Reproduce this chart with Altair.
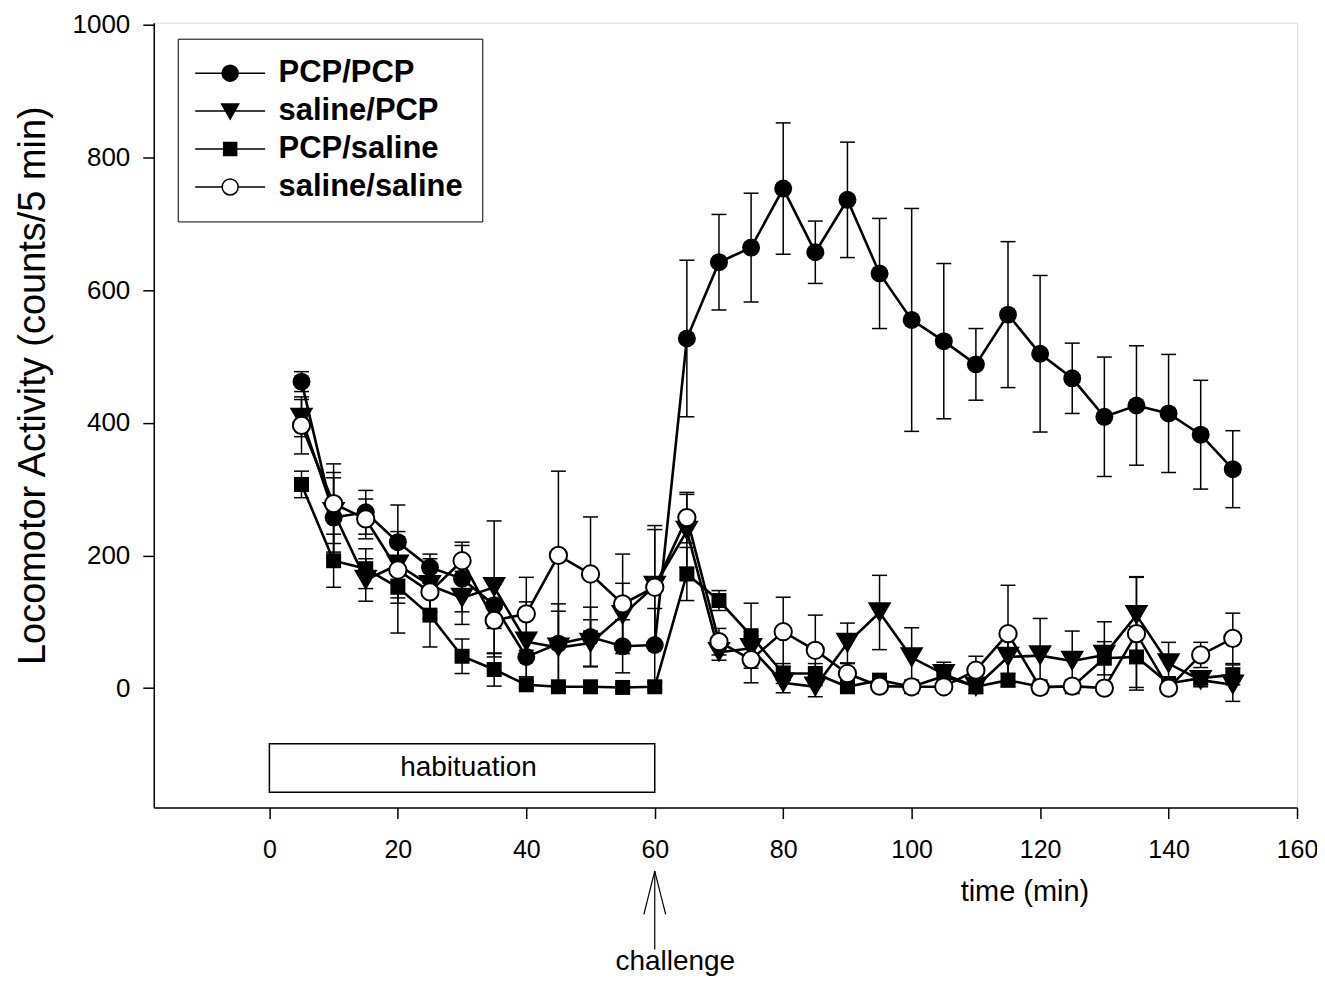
import altair as alt
import pandas as pd

# ---- data ----
times = [5, 10, 15, 20, 25, 30, 35, 40, 45, 50, 55, 60, 65, 70, 75,
         80, 85, 90, 95, 100, 105, 110, 115, 120, 125, 130, 135, 140, 145, 150]

groups = ["PCP/PCP", "saline/PCP", "PCP/saline", "saline/saline"]

pcp_pcp = [462, 257, 265, 220, 182, 165, 125, 47, 67, 77, 63, 65, 527, 642, 664,
           753, 657, 736, 625, 555, 523, 488, 563, 504, 467, 409, 426, 414, 382, 330]
pcp_pcp_err = [15, 60, 33, 56, 20, 50, 35, 30, 60, 45, 40, 55, 118, 72, 82,
               99, 47, 87, 83, 168, 117, 54, 110, 118, 53, 90, 90, 89, 82, 58]

saline_pcp = [407, 265, 163, 186, 155, 136, 152, 70, 61, 68, 110, 154, 237, 54, 60,
              8, 2, 68, 114, 46, 21, 2, 47, 49, 41, 50, 110, 37, 12, 5]
saline_pcp_err = [28, 60, 32, 50, 40, 40, 100, 60, 55, 35, 48, 85, 55, 12, 25,
                  15, 15, 30, 56, 45, 18, 10, 40, 56, 45, 50, 58, 32, 10, 25]

pcp_saline = [307, 192, 180, 152, 110, 48, 28, 5, 2, 2, 1, 2, 172, 132, 79,
              22, 22, 2, 12, 2, 18, 2, 12, 2, 2, 45, 47, 7, 15, 20]
pcp_saline_err = [20, 40, 30, 69, 48, 26, 25, 5, 5, 5, 5, 5, 40, 15, 49,
                  15, 15, 5, 5, 5, 10, 5, 10, 5, 5, 25, 46, 8, 10, 15]

saline_saline = [396, 278, 255, 178, 145, 192, 102, 112, 200, 172, 127, 152, 257, 70, 43,
                 85, 57, 22, 3, 2, 2, 27, 82, 1, 3, 0, 82, 0, 50, 75]
saline_saline_err = [43, 60, 30, 50, 40, 28, 55, 55, 127, 86, 75, 93, 38, 20, 35,
                     52, 53, 15, 8, 5, 5, 21, 73, 5, 5, 5, 85, 5, 19, 38]

series = {
    "PCP/PCP": (pcp_pcp, pcp_pcp_err),
    "saline/PCP": (saline_pcp, saline_pcp_err),
    "PCP/saline": (pcp_saline, pcp_saline_err),
    "saline/saline": (saline_saline, saline_saline_err),
}

rows = []
for g, (vals, errs) in series.items():
    for t, v, e in zip(times, vals, errs):
        rows.append({"t": t, "group": g, "value": v, "lo": v - e, "hi": v + e})
df = pd.DataFrame(rows)

# annotations
habit = pd.DataFrame([{"x0": 0, "x1": 60, "y0": -157, "y1": -84, "tx": 31, "ty": -121,
                       "label": "habituation"}])
challenge_t = 60
arrow = pd.DataFrame([
    {"x0": challenge_t, "y0": -276, "x1": challenge_t, "y1": -394},
    {"x0": challenge_t, "y0": -276, "x1": challenge_t - 1.7, "y1": -341},
    {"x0": challenge_t, "y0": -276, "x1": challenge_t + 1.7, "y1": -341},
])
chal_lbl = pd.DataFrame([{"x": 63.2, "y": -413, "label": "challenge"}])

FONT = "Liberation Sans"

xs = alt.Scale(domain=[-18, 160], nice=False, zero=False)
ys = alt.Scale(domain=[-180, 1003], nice=False, zero=False)

xaxis = alt.Axis(values=list(range(0, 161, 20)), title="time (min)", grid=False, format="d",
                 titleX=872, titleY=84, titleBaseline="middle", titleFontSize=29,
                 titleFontWeight="normal", titleFont=FONT, titleColor="black",
                 labelFont=FONT, labelFontSize=25, labelColor="black", labelFlush=False,
                 labelPadding=19, tickSize=11, tickColor="black", tickWidth=1.5,
                 domainColor="black", domainWidth=1.5, labelOverlap=False)
yaxis = alt.Axis(values=list(range(0, 1001, 200)), title="Locomotor Activity (counts/5 min)",
                 grid=False, format="d", titleX=-120, titleY=385 - 22, titleBaseline="middle",
                 titleFontSize=38, titleFontWeight="normal", titleFont=FONT, titleColor="black",
                 labelFont=FONT, labelFontSize=26, labelColor="black", labelFlush=False,
                 labelPadding=13, tickSize=11, tickColor="black", tickWidth=1.5,
                 domainColor="black", domainWidth=1.5, labelOverlap=False)


def X(f):
    return alt.X(f, type="quantitative", scale=xs, axis=xaxis)


def Y(f):
    return alt.Y(f, type="quantitative", scale=ys, axis=yaxis)


base = alt.Chart(df)

rect = alt.Chart(habit).mark_rect(fill="white", stroke="black", strokeWidth=1.5).encode(
    x=X("x0"), x2="x1", y=Y("y0"), y2="y1")
rect_txt = alt.Chart(habit).mark_text(font=FONT, fontSize=28, color="black",
                                      baseline="middle", align="center").encode(
    x=X("tx"), y=Y("ty"), text="label:N")

err_rule = base.mark_rule(color="black", strokeWidth=1.5).encode(
    x=X("t"), y=Y("lo"), y2="hi", detail="group:N")
cap_lo = base.mark_tick(color="black", orient="horizontal", size=15, thickness=1.5,
                        opacity=1).encode(x=X("t"), y=Y("lo"), detail="group:N")
cap_hi = base.mark_tick(color="black", orient="horizontal", size=15, thickness=1.5,
                        opacity=1).encode(x=X("t"), y=Y("hi"), detail="group:N")

lines = base.mark_line(color="black", strokeWidth=2.6).encode(
    x=X("t"), y=Y("value"), detail="group:N", order="t:Q")

pt_styles = {
    "PCP/PCP": dict(shape="circle", filled=True, color="black", size=324),
    "saline/PCP": dict(shape="triangle-down", filled=True, color="black", size=560),
    "PCP/saline": dict(shape="square", filled=True, color="black", size=225),
    "saline/saline": dict(shape="circle", fill="white", stroke="black", strokeWidth=2, size=300),
}
point_layers = []
for g in ["PCP/saline", "saline/PCP", "PCP/PCP", "saline/saline"]:
    point_layers.append(
        base.transform_filter(alt.datum.group == g)
        .mark_point(opacity=1, **pt_styles[g])
        .encode(x=X("t"), y=Y("value"))
    )

# legend symbols: marker with a line through it
circ = "M-3.5,0H-0.8M0.8,0H3.5M0.8,0A0.8,0.8,0,1,1,-0.8,0A0.8,0.8,0,1,1,0.8,0Z"
tri = "M-3.5,0H3.5M-0.85,-0.7H0.85L0,0.8Z"
sq = "M-3.5,0H3.5M-0.65,-0.65H0.65V0.65H-0.65Z"

leg = alt.Legend(title=None, orient="none", legendX=24, legendY=16, padding=19,
                 strokeColor="black", fillColor="white", symbolSize=400,
                 symbolStrokeColor="black", symbolStrokeWidth=1.5, symbolOffset=18,
                 symbolOpacity=1,
                 labelOffset=33, labelFont=FONT, labelFontWeight="bold", labelFontSize=31,
                 labelColor="black", labelLimit=500, rowPadding=6)
legend_layer = base.transform_filter("false").mark_point(
    filled=True, opacity=1, size=400, strokeWidth=1.5).encode(
    x=X("t"), y=Y("value"),
    shape=alt.Shape("group:N", scale=alt.Scale(domain=groups, range=[circ, tri, sq, circ]),
                    legend=leg),
    fill=alt.Fill("group:N", scale=alt.Scale(domain=groups,
                                             range=["black", "black", "black", "white"]),
                  legend=leg),
    stroke=alt.Stroke("group:N", scale=alt.Scale(domain=groups,
                                                 range=["black", "black", "black", "black"]),
                      legend=leg),
)

arrow_layer = alt.Chart(arrow).mark_rule(color="black", strokeWidth=1.2).encode(
    x=X("x0"), y=Y("y0"), x2="x1", y2="y1")
chal_txt = alt.Chart(chal_lbl).mark_text(font=FONT, fontSize=28, color="black",
                                         baseline="middle", align="center").encode(
    x=X("x"), y=Y("y"), text="label:N")

chart = alt.layer(
    rect, rect_txt, err_rule, cap_lo, cap_hi, lines, *point_layers, legend_layer,
    arrow_layer, chal_txt
).properties(
    width=1145, height=786,
    autosize=alt.AutoSizeParams(type="none"),
    padding={"left": 146, "top": 14, "right": 20, "bottom": 170},
).configure_view(stroke="black", strokeWidth=1.5).configure(background="white")

chart.save("out.html", embed_options={"renderer": "svg", "actions": False})
